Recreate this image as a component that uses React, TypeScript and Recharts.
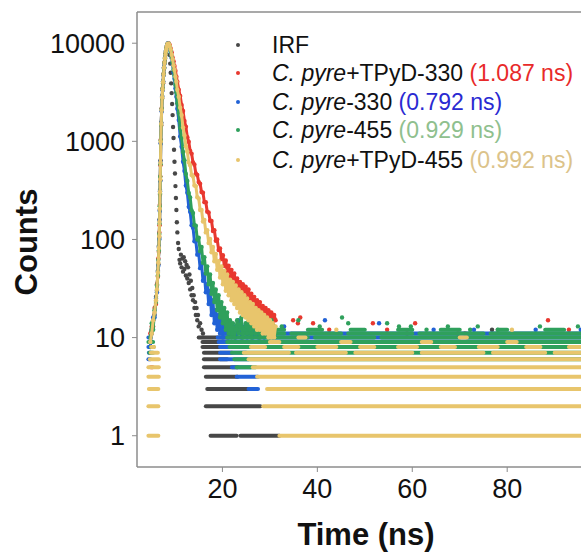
import React from 'react';
import { ScatterChart, Scatter, XAxis, YAxis, ReferenceLine } from 'recharts';

const FONT = '"Liberation Sans", Arial, Helvetica, sans-serif';
const AXIS = '#8c8c8c';

// legend text
const nameItalic = ['', 'C. pyre', 'C. pyre', 'C. pyre', 'C. pyre'];
const nameRest = ['IRF', '+TPyD-330', '-330', '-455', '+TPyD-455'];
const lifetimes = ['', '(1.087 ns)', '(0.792 ns)', '(0.929 ns)', '(0.992 ns)'];
const dotColors = ['#474747', '#e8382f', '#2262d6', '#2fa05c', '#e8c56c'];
const lifetimeColors = ['#222222', '#e82a2a', '#2a2ad2', '#8fc08e', '#dcc38a'];

const xTicks = [20, 40, 60, 80];
const yTicks = [1, 10, 100, 1000, 10000];
const xDomain = [2, 98.5];
const yDomain = [0.48, 20800];

// rising edge, shared time channels (ns)
const riseTime = [4.8, 5.1, 5.4, 5.7, 6.0, 6.2, 6.4, 6.5, 6.6, 6.7, 6.75, 6.8, 6.85, 6.9, 6.95, 7.0, 7.1, 7.2, 7.3, 7.4, 7.5, 7.6, 7.7, 7.8, 7.9, 8.0, 8.1, 8.2, 8.3, 8.4, 8.5];
const irfRise = [9, 11, 15, 17, 26, 30, 48, 56, 86, 104, 160, 200, 320, 400, 640, 960, 1560, 2050, 2900, 3350, 4100, 4750, 5700, 6250, 7100, 7650, 8400, 8750, 9400, 9650, 9950];
const redRise = [11, 13, 13, 20, 22, 35, 42, 64, 75, 118, 140, 225, 285, 440, 570, 1040, 1450, 2180, 2720, 3480, 3900, 4880, 5500, 6400, 6900, 7800, 8200, 8900, 9200, 9750, 9850];
const blueRise = [8, 12, 16, 16, 25, 29, 47, 54, 84, 100, 156, 195, 310, 395, 620, 950, 1540, 2020, 2870, 3320, 4080, 4720, 5680, 6200, 7080, 7620, 8380, 8700, 9380, 9620, 9920];
const greenRise = [10, 14, 12, 19, 23, 34, 43, 62, 77, 114, 145, 218, 292, 435, 585, 1020, 1470, 2150, 2760, 3450, 3950, 4850, 5550, 6350, 6950, 7750, 8250, 8850, 9250, 9720, 9880];
const yellowRise = [9, 11, 15, 18, 24, 31, 46, 58, 82, 108, 152, 205, 305, 410, 610, 990, 1510, 2080, 2820, 3380, 4020, 4780, 5620, 6280, 7020, 7680, 8320, 8780, 9320, 9680, 9900];

// IRF fall
const irfTime = [8.7, 8.8, 8.9, 9.0, 9.1, 9.2, 9.3, 9.4, 9.5, 9.6, 9.7, 9.8, 9.9, 10.0, 10.1, 10.2, 10.3, 10.4, 10.5, 10.65, 10.8, 10.95, 11.1, 11.25, 11.4, 11.55, 11.7, 11.85, 12.0, 12.15, 12.3, 12.45, 12.6, 12.75, 12.9, 13.05, 13.2, 13.35, 13.5, 13.65, 13.8, 13.95, 14.1, 14.25, 14.4, 14.55, 14.7, 14.85, 15.0, 15.3, 15.6, 15.9];
const irfDecay = [9700, 8900, 7600, 6200, 5000, 3900, 3100, 2400, 1850, 1400, 1080, 820, 620, 470, 350, 265, 200, 150, 118, 92, 80, 62, 57, 70, 52, 64, 47, 66, 50, 60, 43, 55, 40, 52, 36, 44, 31, 38, 27, 32, 24, 27, 20, 23, 17, 20, 15, 17, 13, 14, 12, 11];

// sample decays, shared time channels (ns)
const decayTime = [8.7, 8.9, 9.1, 9.3, 9.5, 9.7, 9.9, 10.1, 10.3, 10.5, 10.8, 11.1, 11.4, 11.7, 12.0, 12.3, 12.6, 12.9, 13.2, 13.5, 13.8, 14.1, 14.4, 14.7, 15.0, 15.3, 15.6, 15.9, 16.2, 16.5, 16.8, 17.1, 17.4, 17.7, 18.0, 18.3, 18.6, 18.9, 19.2, 19.5, 19.8, 20.1, 20.4, 20.7, 21.0, 21.3, 21.6, 21.9, 22.2, 22.5, 22.8, 23.1, 23.4, 23.7, 24.0, 24.3, 24.6, 24.9, 25.2, 25.5, 25.8, 26.1, 26.4, 26.7, 27.0, 27.3, 27.6, 27.9, 28.2, 28.5, 28.8, 29.1, 29.4, 29.7, 30.0, 30.3, 30.6, 30.9, 31.2];
const redDecay = [9950, 9600, 8850, 8100, 7150, 6550, 5850, 5250, 4550, 4050, 3350, 2900, 2350, 2040, 1610, 1410, 1100, 990, 800, 750, 610, 580, 470, 455, 385, 370, 305, 300, 240, 240, 192, 188, 155, 154, 122, 124, 97, 100, 78, 81, 63, 69, 54, 61, 46, 54, 42, 49, 38, 45, 34, 40, 31, 37, 28, 35, 26, 33, 24, 31, 22, 28, 20, 26, 18, 24, 17, 23, 16, 21, 15, 20, 14, 19, 14, 18, 13, 17, 15];
const blueDecay = [9750, 9050, 8150, 7050, 6150, 5050, 4350, 3450, 2850, 2150, 1650, 1120, 880, 620, 500, 355, 300, 215, 192, 140, 132, 96, 96, 70, 72, 51, 56, 38, 44, 29, 35, 22, 30, 17, 24, 14, 19, 12, 17, 11, 15, 10, 13, 11, 12, 10, 14, 11, 12, 13, 10, 11, 15, 12, 10, 11, 13, 12, 10, 14, 11, 12, 10, 13, 11, 12, 10, 11, 14, 12, 10, 13, 11, 10, 12, 11, 13, 10, 12];
const greenDecay = [9800, 9150, 8350, 7250, 6350, 5350, 4650, 3750, 3150, 2450, 1950, 1370, 1090, 780, 640, 465, 395, 298, 268, 198, 186, 140, 138, 100, 104, 76, 84, 58, 66, 45, 53, 35, 44, 28, 36, 23, 31, 19, 27, 16, 23, 14, 20, 12, 18, 11, 15, 10, 14, 10, 12, 15, 11, 13, 16, 10, 12, 14, 11, 17, 12, 10, 13, 15, 11, 12, 14, 10, 13, 16, 11, 12, 14, 10, 12, 15, 11, 13, 12];
const yellowDecay = [9900, 9350, 8650, 7650, 6850, 5950, 5350, 4550, 4050, 3350, 2850, 2200, 1850, 1380, 1150, 890, 790, 610, 570, 455, 440, 355, 350, 270, 262, 200, 200, 152, 158, 118, 124, 92, 101, 74, 84, 60, 71, 49, 60, 41, 53, 35, 48, 30, 44, 27, 39, 24, 37, 22, 34, 20, 31, 18, 29, 17, 27, 16, 25, 15, 23, 14, 22, 13, 20, 12, 19, 12, 18, 11, 17, 11, 16, 10, 15, 10, 14, 10, 13];

// loose points above the background
const irfExtraTime = [76.8, 96.5];
const irfExtraCount = [12, 13];
const redExtraTime = [34.9, 35.9, 36.4, 39.1, 42.5, 51.7, 54.7, 58.9, 60.6, 69.6, 71.1, 88.6, 93.0];
const redExtraCount = [15, 14, 16, 14, 12, 14, 12, 11, 14, 11, 11, 15, 12];
const blueExtraTime = [33.0, 41.6, 53.0, 64.5, 73.0, 86.0, 95.5];
const blueExtraCount = [13, 15, 14, 12, 12, 12, 12];
const greenExtraTime = [29.0, 32.5, 36.0, 40.5, 45.2, 46.5, 54.7, 57.2, 59.7, 63.0, 67.5, 72.2, 73.8, 78.0, 86.9, 94.9];
const greenExtraCount = [14, 13, 15, 13, 16, 14, 14, 13, 13, 12, 13, 12, 13, 12, 13, 13];
const yellowExtraTime = [44.0, 81.0];
const yellowExtraCount = [12, 12];

// background rows of integer counts: [count, from ns, to ns]
const irfBands = [[10, 15.0, 21.0], [9, 15.8, 22.0], [8, 15.8, 24.0], [7, 16.1, 22.0], [6, 16.1, 21.0], [5, 16.1, 23.2], [4, 16.5, 23.2], [3, 16.8, 26.5], [2, 16.5, 28.0], [1, 17.5, 23.0], [1, 23.8, 32.0]];
const redBands = [[9, 4.7, 5.0], [5, 4.9, 5.3]];
const blueBands = [[10, 4.4, 4.9], [8, 4.4, 4.9], [7, 4.5, 4.9], [6, 4.4, 4.8], [10, 19.0, 98.5], [9, 19.2, 98.5], [8, 19.5, 27.0], [7, 19.5, 25.0], [6, 19.5, 25.5], [5, 22.0, 26.0], [4, 23.0, 27.5], [3, 25.5, 27.5], [11, 26.0, 98.5]];
const greenBands = [[9, 4.4, 5.4], [7, 4.6, 5.4], [8, 4.9, 5.5], [12, 30, 33], [12, 38, 41], [12, 47, 50], [12, 57, 60], [12, 66, 70], [12, 78, 80], [12, 88, 92], [11, 24, 33], [11, 34.5, 45], [11, 46.5, 60], [11, 61.5, 75], [11, 76.5, 98.5], [10, 21, 38], [10, 39.5, 52], [10, 53.5, 70], [10, 71.5, 98.5], [9, 21, 98.5], [8, 21.5, 98.5], [7, 22, 98.5], [6, 22.5, 98.5], [5, 23, 27]];
const yellowBands = [[1, 4.4, 6.5], [2, 4.4, 6.5], [3, 4.5, 6.5], [4, 4.4, 6.6], [5, 4.4, 6.6], [6, 4.7, 6.6], [7, 4.9, 6.4], [8, 5.0, 5.6],
  [1, 32, 98.5], [2, 28.6, 98.5], [3, 29.4, 98.5], [4, 27.3, 98.5], [5, 26.4, 98.5], [6, 25.5, 98.5],
  [7, 24.5, 34], [7, 35.5, 46], [7, 48, 60], [7, 62, 75], [7, 77, 88], [7, 90, 98.5],
  [8, 26, 29], [8, 33, 36], [8, 40, 44], [8, 49, 52], [8, 57, 61], [8, 66, 69], [8, 74, 78], [8, 84, 87], [8, 93, 96],
  [9, 30, 32], [9, 45, 47], [9, 62, 64], [9, 80, 82], [10, 36, 37.5], [10, 70, 71.5]];

type Pt = { t: number; c: number };
const pair = (ts: number[], cs: number[]): Pt[] =>
  ts.map((t, i) => ({ t, c: cs[i] })).filter((p) => p.c != null);

// joined: draw the decay as a dense noisy band (the IRF stays as loose dots)
const series = [
  { bands: irfBands, joined: false, curve: [...pair(riseTime, irfRise), ...pair(irfTime, irfDecay)], extra: pair(irfExtraTime, irfExtraCount) },
  { bands: redBands, joined: true, curve: [...pair(riseTime, redRise), ...pair(decayTime, redDecay)], extra: pair(redExtraTime, redExtraCount) },
  { bands: blueBands, joined: true, curve: [...pair(riseTime, blueRise), ...pair(decayTime, blueDecay)], extra: pair(blueExtraTime, blueExtraCount) },
  { bands: greenBands, joined: true, curve: [...pair(riseTime, greenRise), ...pair(decayTime, greenDecay)], extra: pair(greenExtraTime, greenExtraCount) },
  { bands: yellowBands, joined: true, curve: [...pair(riseTime, yellowRise), ...pair(decayTime, yellowDecay)], extra: pair(yellowExtraTime, yellowExtraCount) },
];

const dot = (color: string) => (p: any) => <circle cx={p.cx} cy={p.cy} r={2.2} fill={color} />;
const noDot = () => <g />;

const tickStyle = { fill: '#111', fontSize: 27, fontFamily: FONT };
const rowCenters = [44.5, 73.3, 101.7, 130, 159.5];

export default function App() {
  return (
    <div style={{ position: 'absolute', left: 0, top: 0, width: 581, height: 553, overflow: 'hidden', background: '#fff', fontFamily: FONT }}>
      <ScatterChart width={600} height={553} margin={{ top: 12, right: 5, bottom: 0, left: 0 }}>
        <XAxis
          type="number"
          dataKey="t"
          domain={xDomain}
          ticks={xTicks}
          allowDataOverflow
          height={86}
          tickSize={5}
          tickMargin={7}
          tick={tickStyle}
          tickLine={{ stroke: AXIS }}
          axisLine={{ stroke: AXIS, strokeWidth: 1.5 }}
        />
        <YAxis
          type="number"
          dataKey="c"
          scale="log"
          domain={yDomain}
          ticks={yTicks}
          allowDataOverflow
          width={137}
          tickSize={5}
          tickMargin={7}
          tick={tickStyle}
          tickLine={{ stroke: AXIS }}
          axisLine={{ stroke: AXIS, strokeWidth: 1.5 }}
        />
        <ReferenceLine y={yDomain[1]} stroke={AXIS} strokeWidth={1.5} />
        {series.map((s, si) => (
          <React.Fragment key={si}>
            {s.bands.map(([lvl, from, to], bi) => (
              <Scatter
                key={`band-${si}-${bi}`}
                data={[{ t: from, c: lvl }, { t: to, c: lvl }]}
                line={{ stroke: dotColors[si], strokeWidth: 4, strokeLinecap: 'round' }}
                shape={noDot}
                isAnimationActive={false}
              />
            ))}
            <Scatter
              data={s.curve}
              line={s.joined ? { stroke: dotColors[si], strokeWidth: 3, strokeLinejoin: 'round' } : false}
              shape={dot(dotColors[si])}
              isAnimationActive={false}
            />
            <Scatter data={s.extra} shape={dot(dotColors[si])} isAnimationActive={false} />
          </React.Fragment>
        ))}
      </ScatterChart>

      {/* legend */}
      {nameRest.map((rest, i) => (
        <div key={i} style={{ position: 'absolute', left: 0, top: rowCenters[i] - 14, height: 28, width: 581 }}>
          <span style={{ position: 'absolute', left: 236, top: 12, width: 4, height: 4, borderRadius: 2, background: dotColors[i] }} />
          <span style={{ position: 'absolute', left: 272, top: 0, lineHeight: '28px', fontSize: 23, color: '#111', whiteSpace: 'nowrap' }}>
            {nameItalic[i] && <i>{nameItalic[i]}</i>}
            {rest}
            {lifetimes[i] && <span style={{ color: lifetimeColors[i] }}> {lifetimes[i]}</span>}
          </span>
        </div>
      ))}

      {/* axis titles */}
      <div style={{ position: 'absolute', left: 266, top: 520, width: 200, textAlign: 'center', fontSize: 31, fontWeight: 'bold', lineHeight: '30px', color: '#111' }}>
        Time (ns)
      </div>
      <div style={{ position: 'absolute', left: 27 - 70, top: 242 - 15, width: 140, textAlign: 'center', fontSize: 31, fontWeight: 'bold', lineHeight: '30px', color: '#111', transform: 'rotate(-90deg)' }}>
        Counts
      </div>
    </div>
  );
}
